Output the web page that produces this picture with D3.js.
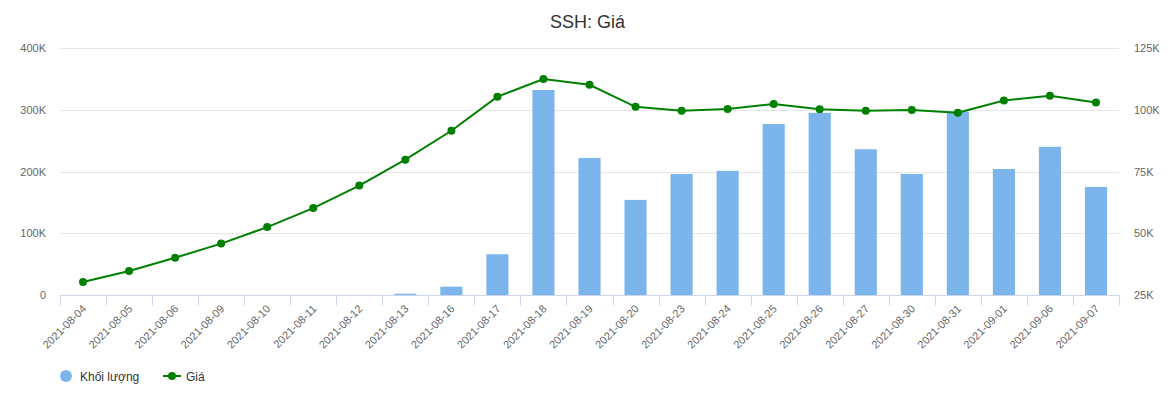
<!DOCTYPE html>
<html>
<head>
<meta charset="utf-8">
<script src="https://cdn.jsdelivr.net/npm/d3@7"></script>
<style>
  body { margin: 0; background: #fff; }
  svg { font-family: "Liberation Sans", Arial, sans-serif; }
</style>
</head>
<body>
<div class="canvas"></div>
<script>
// data
const dates = ['2021-08-04', '2021-08-05', '2021-08-06', '2021-08-09', '2021-08-10', '2021-08-11',
  '2021-08-12', '2021-08-13', '2021-08-16', '2021-08-17', '2021-08-18', '2021-08-19', '2021-08-20',
  '2021-08-23', '2021-08-24', '2021-08-25', '2021-08-26', '2021-08-27', '2021-08-30', '2021-08-31',
  '2021-09-01', '2021-09-06', '2021-09-07']
const volume = [0, 0, 0, 0, 0, 0, 0, 2000, 13500, 66000, 332000, 222000, 154000,
  196000, 201000, 277000, 295000, 236000, 196000, 297000, 204000, 240000, 175000]
const price = [30300, 34700, 40100, 45800, 52500, 60200, 69300, 79800, 91500, 105300, 112400, 110100, 101200,
  99600, 100300, 102300, 100200, 99600, 99900, 98800, 103700, 105700, 102900]
const volTicks = [0, 100000, 200000, 300000, 400000]
const priceTicks = [25000, 50000, 75000, 100000, 125000]

const dims = { width: 1175, height: 397 }
const plot = { left: 60, right: 1119, top: 48, bottom: 295 }

const svg = d3.select('.canvas')
  .append('svg')
  .attr('width', dims.width)
  .attr('height', dims.height)

// scales
const x = d3.scaleBand()
  .domain(dates)
  .range([plot.left, plot.right])
  .paddingInner(0.52)
  .paddingOuter(0.26)

const yVol = d3.scaleLinear().domain([0, 400000]).range([plot.bottom, plot.top])
const yPrice = d3.scaleLinear().domain([25000, 125000]).range([plot.bottom, plot.top])

const fmtK = v => v === 0 ? '0' : (v / 1000) + 'K'

// title
svg.append('text')
  .attr('x', dims.width / 2)
  .attr('y', 28)
  .attr('text-anchor', 'middle')
  .attr('fill', '#333')
  .style('font-size', '18px')
  .text('SSH: Giá')

// grid lines
svg.append('g')
  .selectAll('line')
  .data(volTicks.slice(1))
  .enter().append('line')
  .attr('x1', plot.left).attr('x2', plot.right)
  .attr('y1', d => Math.round(yVol(d)) + 0.5)
  .attr('y2', d => Math.round(yVol(d)) + 0.5)
  .attr('stroke', '#e6e6e6')

// left axis
const leftAxis = svg.append('g')
  .attr('transform', `translate(${plot.left - 14},0)`)
  .call(d3.axisLeft(yVol).tickValues(volTicks).tickFormat(fmtK).tickSize(0))
leftAxis.select('.domain').remove()
leftAxis.selectAll('text').attr('fill', '#666').style('font-size', '11px').attr('x', 0)

// right axis
const rightAxis = svg.append('g')
  .attr('transform', `translate(${plot.right + 15},0)`)
  .call(d3.axisRight(yPrice).tickValues(priceTicks).tickFormat(fmtK).tickSize(0))
rightAxis.select('.domain').remove()
rightAxis.selectAll('text').attr('fill', '#666').style('font-size', '11px').attr('x', 0)

// bars
svg.append('g')
  .selectAll('rect')
  .data(volume)
  .enter().append('rect')
  .attr('x', (d, i) => x(dates[i]))
  .attr('width', x.bandwidth())
  .attr('y', d => yVol(d))
  .attr('height', d => plot.bottom - yVol(d))
  .attr('fill', '#7cb5ec')

// bottom axis
const step = x.step()
const bottom = svg.append('g')
  .attr('transform', `translate(0,${plot.bottom + 0.5})`)
bottom.append('line')
  .attr('x1', plot.left).attr('x2', plot.right)
  .attr('stroke', '#ccd6eb')
bottom.selectAll('.tick')
  .data(d3.range(dates.length + 1))
  .enter().append('line')
  .attr('x1', i => Math.round(plot.left + i * (plot.right - plot.left) / dates.length) + 0.5)
  .attr('x2', i => Math.round(plot.left + i * (plot.right - plot.left) / dates.length) + 0.5)
  .attr('y1', 0).attr('y2', 10)
  .attr('stroke', '#ccd6eb')
bottom.selectAll('text')
  .data(dates)
  .enter().append('text')
  .attr('transform', d => `translate(${x(d) + x.bandwidth() / 2 + 4},${14}) rotate(-45)`)
  .attr('text-anchor', 'end')
  .attr('fill', '#666')
  .style('font-size', '11px')
  .text(d => d)

// price line
const line = d3.line()
  .x((d, i) => x(dates[i]) + x.bandwidth() / 2)
  .y(d => yPrice(d))

svg.append('path')
  .datum(price)
  .attr('d', line)
  .attr('fill', 'none')
  .attr('stroke', '#008000')
  .attr('stroke-width', 2)

svg.append('g')
  .selectAll('circle')
  .data(price)
  .enter().append('circle')
  .attr('cx', (d, i) => x(dates[i]) + x.bandwidth() / 2)
  .attr('cy', d => yPrice(d))
  .attr('r', 4)
  .attr('fill', '#008000')

// legend
const legend = svg.append('g').attr('transform', 'translate(0,376)')
legend.append('circle').attr('cx', 66).attr('cy', 0).attr('r', 6).attr('fill', '#7cb5ec')
legend.append('text').attr('x', 80).attr('y', 5).attr('fill', '#333')
  .style('font-size', '12px').text('Khối lượng')
legend.append('line').attr('x1', 163).attr('x2', 181).attr('y1', 0).attr('y2', 0)
  .attr('stroke', '#008000').attr('stroke-width', 2)
legend.append('circle').attr('cx', 172).attr('cy', 0).attr('r', 4).attr('fill', '#008000')
legend.append('text').attr('x', 186).attr('y', 5).attr('fill', '#333')
  .style('font-size', '12px').text('Giá')
</script>
</body>
</html>
